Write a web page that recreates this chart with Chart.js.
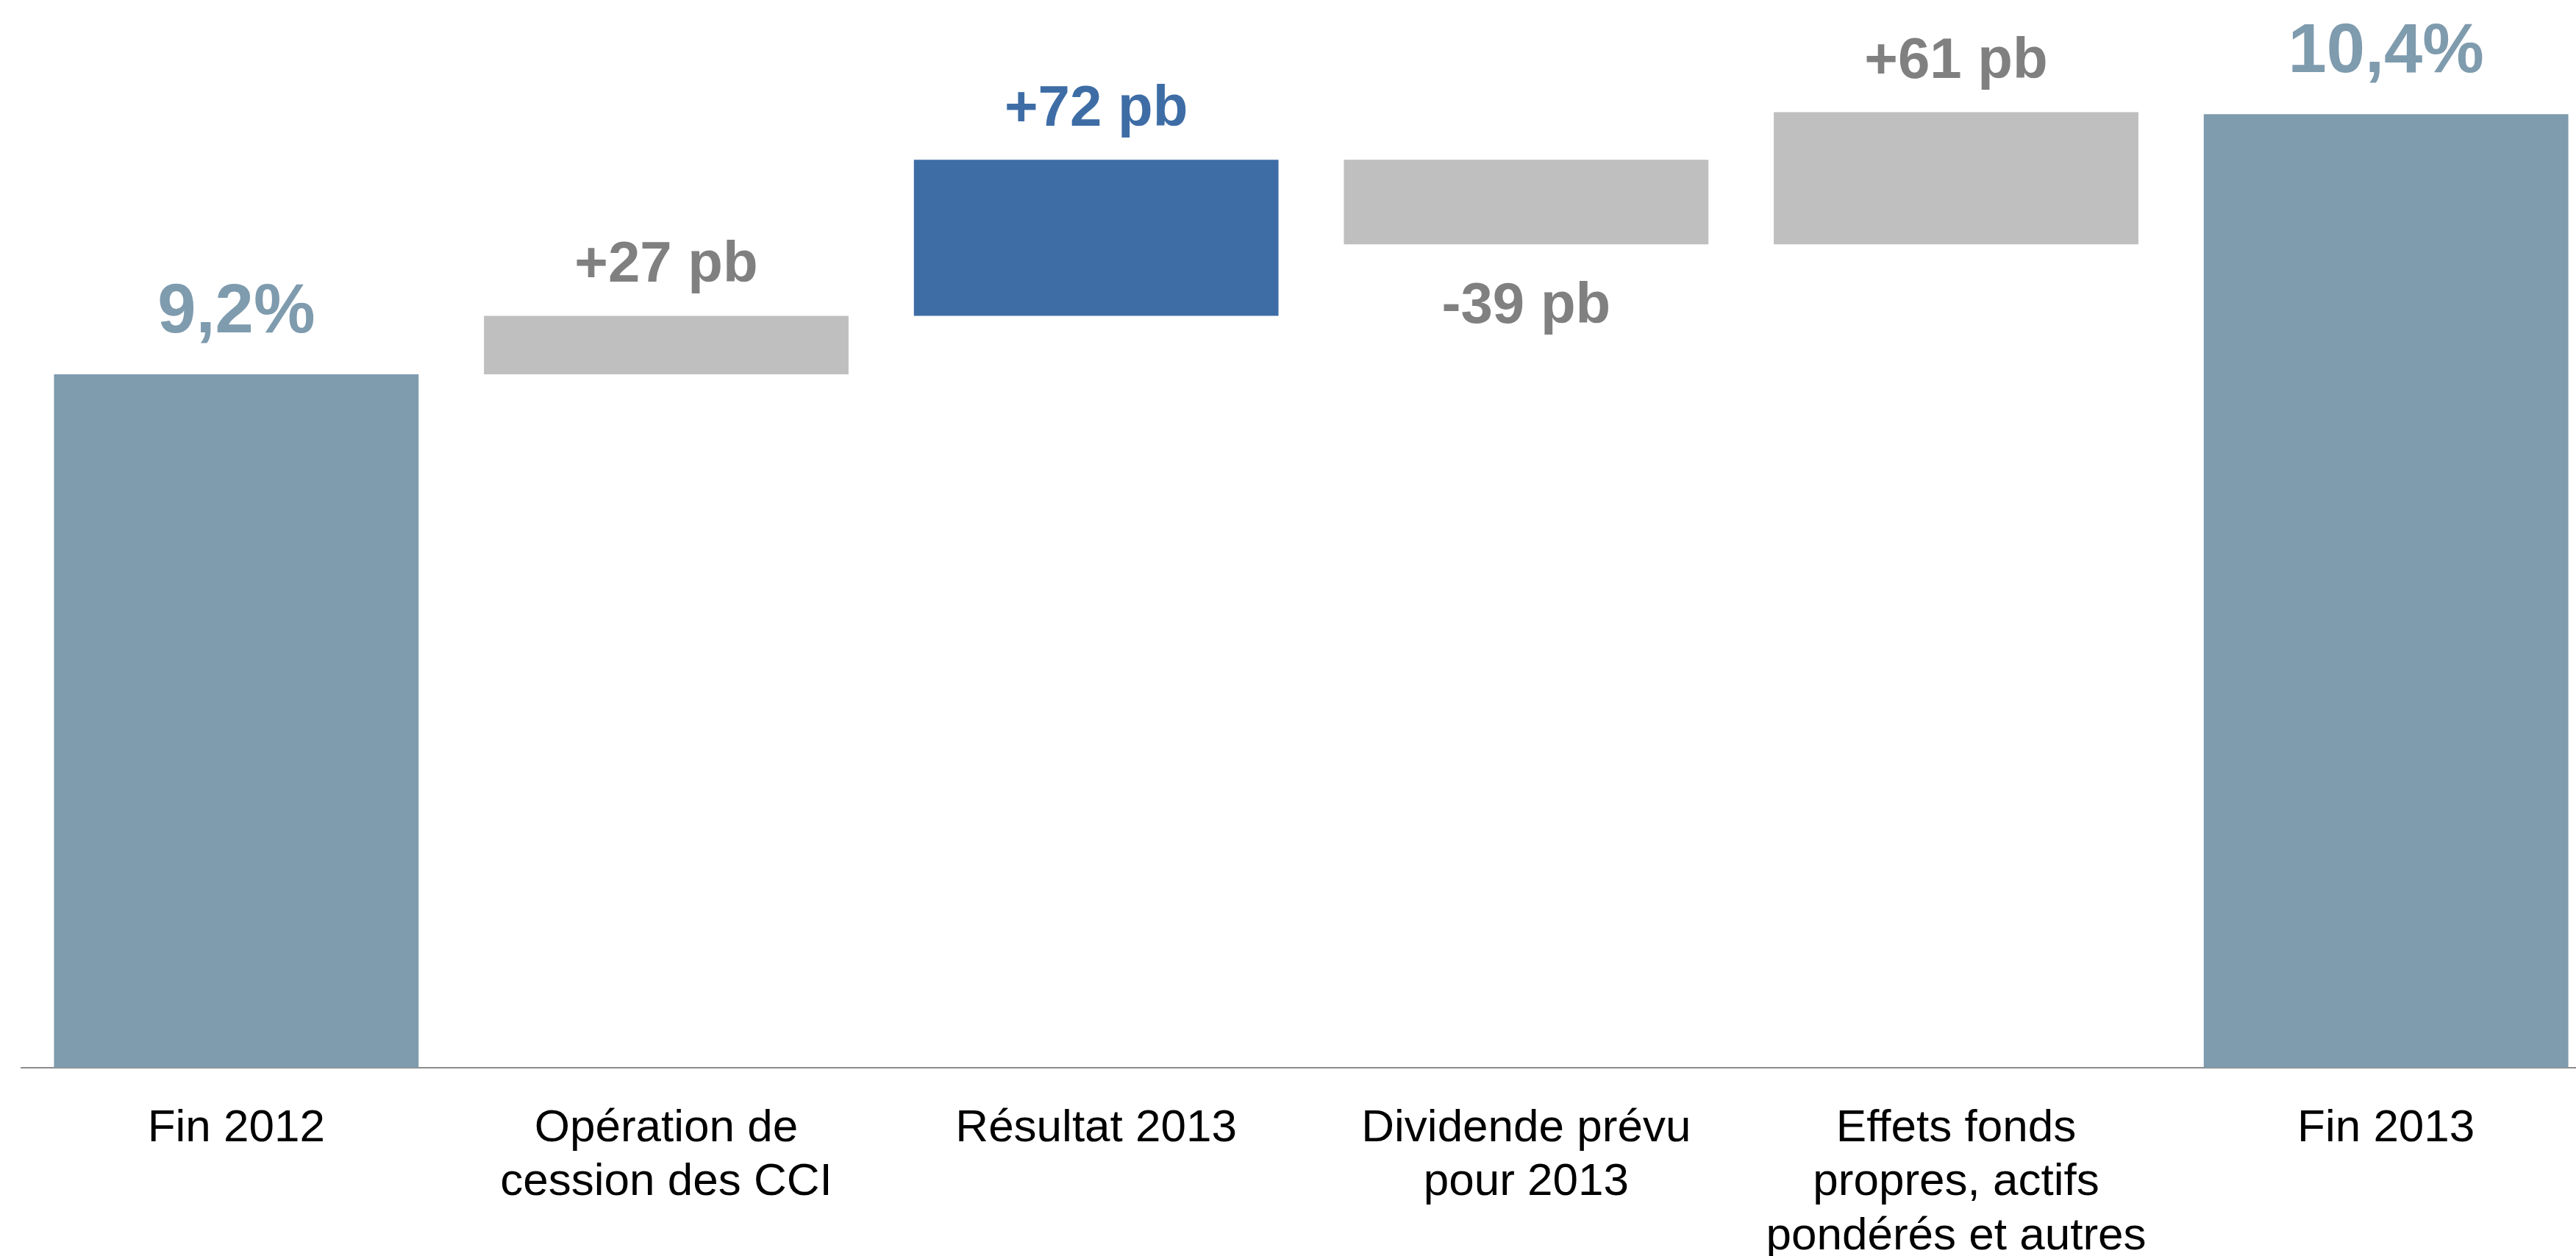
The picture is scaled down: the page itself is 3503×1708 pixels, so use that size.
<!DOCTYPE html>
<html>
<head>
<meta charset="utf-8">
<script src="https://cdn.jsdelivr.net/npm/chart.js@4"></script>
<style>
  html, body { margin: 0; padding: 0; background: #ffffff; overflow: hidden; }
  #wrap { width: 3540px; height: 1708px; }
</style>
</head>
<body>
<div id="wrap"><canvas id="c" width="3540" height="1708"></canvas></div>
<script>
// ---- data ----
const categories = [
  ['Fin 2012'],
  ['Opération de', 'cession des CCI'],
  ['Résultat 2013'],
  ['Dividende prévu', 'pour 2013'],
  ['Effets fonds', 'propres, actifs', 'pondérés et autres'],
  ['Fin 2013']
];
const startRatio = 9.2;          // % fin 2012
const changesPb = [27, 72, -39, 61]; // points de base
const endRatio = 10.4;           // % fin 2013
const valueLabels = ['9,2%', '+27 pb', '+72 pb', '-39 pb', '+61 pb', '10,4%'];
const barKinds = ['total', 'delta', 'highlight', 'delta', 'delta', 'total'];

// ---- styles ----
const COLORS = { total: '#7F9BAE', delta: '#BFBFBF', highlight: '#3E6DA6' };
const LABEL_COLORS = { total: '#7F9BAE', delta: '#808080', highlight: '#3E6DA6' };
const FONT = '"Liberation Sans", Arial, sans-serif';

// build waterfall data (floating bars)
const barData = [startRatio];
let level = startRatio;
changesPb.forEach(d => {
  const next = +(level + d / 100).toFixed(4);
  barData.push([level, next]);
  level = next;
});
barData.push(endRatio);

const labelPlugin = {
  id: 'valueLabels',
  afterDatasetsDraw(chart) {
    const ctx = chart.ctx;
    const meta = chart.getDatasetMeta(0);
    ctx.save();
    ctx.textAlign = 'center';
    ctx.textBaseline = 'alphabetic';
    meta.data.forEach((el, i) => {
      const kind = barKinds[i];
      const top = Math.min(el.y, el.base);
      const bottom = Math.max(el.y, el.base);
      const isTotal = kind === 'total';
      const size = isTotal ? 94 : 78;
      ctx.font = 'bold ' + size + 'px ' + FONT;
      ctx.fillStyle = LABEL_COLORS[kind];
      const neg = i > 0 && i <= changesPb.length && changesPb[i - 1] < 0;
      let y;
      if (neg) {
        y = bottom + 107;
      } else {
        y = top - (isTotal ? 57 : 46);
      }
      ctx.fillText(valueLabels[i], el.x, y);
    });
    ctx.restore();
  }
};

new Chart(document.getElementById('c'), {
  type: 'bar',
  data: {
    labels: categories,
    datasets: [{
      data: barData,
      backgroundColor: barKinds.map(k => COLORS[k]),
      borderWidth: 0,
      barPercentage: 0.848,
      categoryPercentage: 1.0
    }]
  },
  options: {
    responsive: false,
    animation: false,
    devicePixelRatio: 1,
    layout: { padding: { left: 29, right: 3, top: 8, bottom: 0 } },
    plugins: { legend: { display: false }, tooltip: { enabled: false } },
    scales: {
      x: {
        grid: { display: false, drawTicks: false },
        border: { display: true, color: '#8C8C8C', width: 2 },
        ticks: {
          color: '#000000',
          font: { family: FONT, size: 62, lineHeight: '73.5px' },
          padding: 46,
          maxRotation: 0,
          autoSkip: false
        },
        afterFit(scale) { scale.height = 256; }
      },
      y: {
        display: false,
        min: 6,
        max: 10.9
      }
    }
  },
  plugins: [labelPlugin]
});
</script>
</body>
</html>
